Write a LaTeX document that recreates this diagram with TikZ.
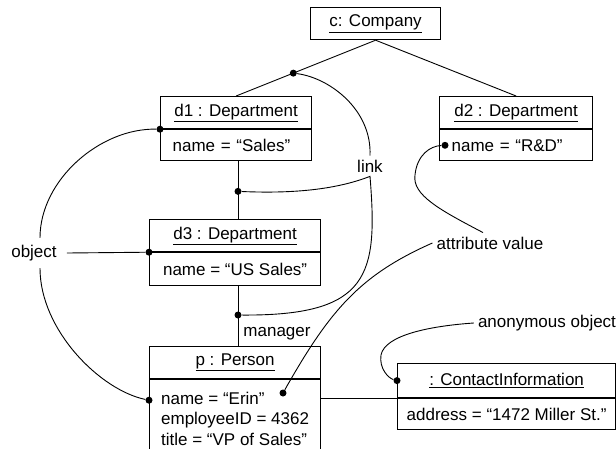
\documentclass[tikz,border=0pt]{standalone}
\usepackage{fontspec}
\setmainfont{Liberation Sans}

\tikzset{
  objbox/.style={draw, line width=1.2pt, inner sep=0pt, minimum height=32, anchor=north west},
  attrbox/.style={draw, line width=1.2pt, inner xsep=12, inner ysep=0pt, align=left, anchor=north west},
  dot/.style={circle, fill, inner sep=0pt, minimum size=7},
  note/.style={inner sep=4pt},
  conn/.style={line width=0.9pt}
}

\begin{document}
\begin{tikzpicture}[x=1pt, y=-1pt, font=\fontsize{17}{20.5}\selectfont]
                \useasboundingbox (0,0) rectangle (616,448);

                %% objects
                \node[objbox, minimum width=130] (comp) at (310,7) {\underline{c: Company}};

                %d1
                \node[objbox, minimum width=151] (d1t) at (160,96) {\underline{d1 : Department}};
                \node[attrbox, text width=127, minimum height=31] (d1a) at (d1t.south west) {name = “Sales”};
                \draw[line width=2pt] (d1t.south west) -- (d1t.south east);

                %d2
                \node[objbox, minimum width=153] (d2t) at (439,96) {\underline{d2 : Department}};
                \node[attrbox, text width=129, minimum height=31] (d2a) at (d2t.south west) {name = “R\&D”};
                \draw[line width=2pt] (d2t.south west) -- (d2t.south east);

                %d3
                \node[objbox, minimum width=171] (d3t) at (149,219) {\underline{d3 : Department}};
                \node[attrbox, inner xsep=0pt, minimum width=171, minimum height=33] (d3a) at (d3t.south west) {name = “US Sales”};

                %p
                \node[objbox, minimum width=171] (pt) at (149,346) {\underline{p : Person}};
                \node[attrbox, inner xsep=0pt, minimum width=171, minimum height=78] (pa) at (pt.south west)
                    {name = “Erin”\\employeeID = 4362\\title = “VP of Sales”};

                %contact
                \node[objbox, minimum width=218, minimum height=34] (ct) at (397,363) {\underline{: ContactInformation}};
                \node[attrbox, inner xsep=0pt, minimum width=218, minimum height=31] (ca) at (ct.south west) {address = “1472 Miller St.”};

                %% links
                \coordinate (vx) at (238,0);
                \draw[conn] (comp.south) -- node[dot, pos=0.59] (cd) {} (d1t.north);
                \draw[conn] (comp.south) -- (d2t.north);
                \draw[conn] (vx |- d1a.south) -- node[dot, pos=0.52] (l1) {} (vx |- d3t.north);
                \draw[conn] (vx |- d3a.south) -- node[dot, pos=0.48] (l2) {} (vx |- pt.north);
                \draw[conn] (ca.north west) -- (ca.north west -| pa.east);
                \node[note] (mg) at (277,334) {manager};

                %% notes
                \node[note] (lk) at (370,166) {link};
                \node[note, inner xsep=10pt, inner ysep=7pt] (ob) at (34,253) {object};
                \node[note] (av) at (490,243) {attribute value};
                \node[note] (an) at (547,323) {anonymous object};

                \node[dot] (d1d) at (d1t.south west) {};
                \node[dot] (d2d) at ([xshift=6]d2a.west) {};
                \node[dot] (d3d) at (d3t.south west) {};
                \node[dot] (pd) at ([yshift=-21]pa.north west) {};
                \node[dot] (ed) at (283,393) {};
                \node[dot] (cid) at (ct.west) {};

                %link
                \draw[conn] (cd) .. controls (330,78) and (372,110) .. (lk.north);
                \draw[conn] (l1) .. controls (300,194) and (340,188) .. (lk.south)
                    .. controls (378,275) and (370,316) .. (l2);

                %object
                \draw[conn] (ob.east) -- (d3d);
                \draw[conn] ([xshift=6]ob.north) .. controls (40,180) and (100,128) .. (d1d);
                \draw[conn] ([xshift=6]ob.south) .. controls (40,330) and (100,390) .. (pd);

                %attribute value
                \draw[conn] ([xshift=-7]av.north) .. controls (440,210) and (412,195) .. (415,175)
                    .. controls (417,155) and (430,146) .. (d2d);
                \draw[conn] (av.west) .. controls (360,275) and (330,310) .. (ed);

                %anonymous object
                \draw[conn] (an.west) .. controls (430,326) and (385,335) .. (381,355)
                    .. controls (379,368) and (388,378) .. (cid);
\end{tikzpicture}
\end{document}
